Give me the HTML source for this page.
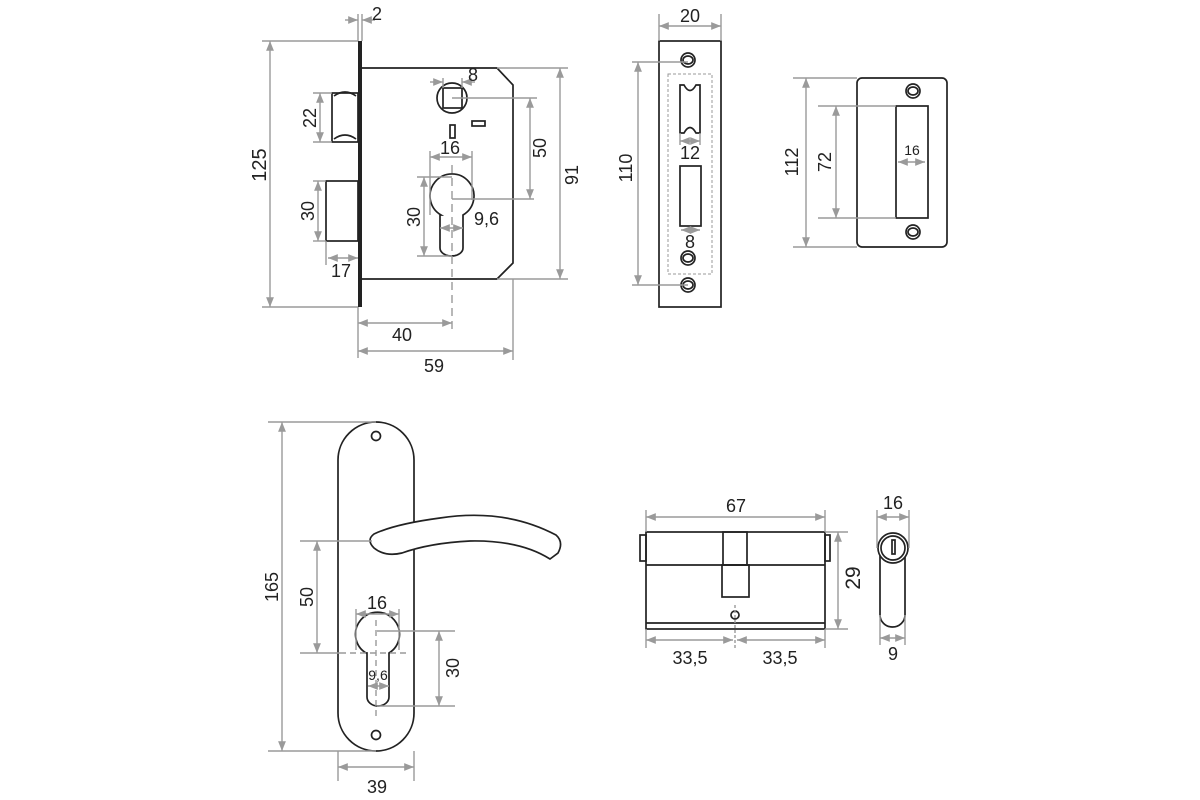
<!DOCTYPE html>
<html><head><meta charset="utf-8"><style>
html,body{margin:0;padding:0;background:#fff;}
svg{display:block;}
text{font-family:"Liberation Sans",sans-serif;font-size:18px;fill:#222;}
.d{stroke:#9a9a9a;stroke-width:1.4;fill:none;}
.o{stroke:#222;stroke-width:1.7;fill:none;}
.w{stroke:#222;stroke-width:1.7;fill:#fff;}
</style></head><body>
<svg width="1200" height="800" viewBox="0 0 1200 800" xmlns="http://www.w3.org/2000/svg">
<defs>
<marker id="a" viewBox="0 0 10 10" refX="10" refY="5" markerWidth="7" markerHeight="7" orient="auto-start-reverse"><path d="M0,1 L10,5 L0,9 z" fill="#9a9a9a"/></marker>
</defs>

<!-- ===== Mortise lock ===== -->
<rect x="358" y="41" width="4" height="266" fill="#222"/>
<path class="o" d="M362,68 H497 L513,85 V263 L497,279 H362"/>
<rect class="o" x="332" y="93" width="26" height="49"/>
<path class="o" d="M334,96 Q345,88 356,96 M334,139 Q345,131 356,139"/>
<rect class="o" x="326" y="181" width="32" height="60"/>
<circle class="o" cx="452" cy="98" r="15"/>
<rect class="o" x="443" y="88" width="19" height="20"/>
<rect class="o" x="450" y="125" width="5" height="13"/>
<rect class="o" x="472" y="121" width="13" height="5"/>
<path class="o" d="M441,215 A22,22 0 1 1 463,215 V248 A11.5,8 0 0 1 440,248 V215 Z"/>
<line class="d" x1="452" y1="165" x2="452" y2="330" stroke-dasharray="8,5"/>
<!-- dims -->
<line class="d" x1="358" y1="14" x2="358" y2="41"/><line class="d" x1="362" y1="14" x2="362" y2="41"/>
<line class="d" x1="345" y1="20" x2="358" y2="20" marker-end="url(#a)"/><line class="d" x1="375" y1="20" x2="362" y2="20" marker-end="url(#a)"/>
<text x="372" y="20">2</text>
<line class="d" x1="262" y1="41" x2="358" y2="41"/><line class="d" x1="262" y1="307" x2="358" y2="307"/>
<line class="d" x1="270" y1="41" x2="270" y2="307" marker-start="url(#a)" marker-end="url(#a)"/>
<text transform="translate(266,165) rotate(-90)" text-anchor="middle" style="font-size:20px">125</text>
<line class="d" x1="313" y1="93" x2="332" y2="93"/><line class="d" x1="313" y1="142" x2="332" y2="142"/>
<line class="d" x1="320" y1="93" x2="320" y2="142" marker-start="url(#a)" marker-end="url(#a)"/>
<text transform="translate(316,118) rotate(-90)" text-anchor="middle">22</text>
<line class="d" x1="313" y1="181" x2="326" y2="181"/><line class="d" x1="313" y1="241" x2="326" y2="241"/>
<line class="d" x1="318" y1="181" x2="318" y2="241" marker-start="url(#a)" marker-end="url(#a)"/>
<text transform="translate(314,211) rotate(-90)" text-anchor="middle">30</text>
<line class="d" x1="326" y1="241" x2="326" y2="265"/>
<line class="d" x1="328" y1="258" x2="358" y2="258" marker-start="url(#a)" marker-end="url(#a)"/>
<text x="341" y="277" text-anchor="middle">17</text>
<line class="d" x1="430" y1="82" x2="443" y2="82" marker-end="url(#a)"/><line class="d" x1="475" y1="82" x2="462" y2="82" marker-end="url(#a)"/>
<line class="d" x1="443" y1="78" x2="443" y2="88"/><line class="d" x1="462" y1="78" x2="462" y2="88"/>
<text x="468" y="81">8</text>
<line class="d" x1="452" y1="98" x2="537" y2="98"/><line class="d" x1="452" y1="199" x2="534" y2="199"/>
<line class="d" x1="530" y1="98" x2="530" y2="199" marker-start="url(#a)" marker-end="url(#a)"/>
<text transform="translate(546,148) rotate(-90)" text-anchor="middle">50</text>
<line class="d" x1="497" y1="68" x2="568" y2="68"/><line class="d" x1="497" y1="279" x2="568" y2="279"/>
<line class="d" x1="560" y1="68" x2="560" y2="279" marker-start="url(#a)" marker-end="url(#a)"/>
<text transform="translate(578,175) rotate(-90)" text-anchor="middle">91</text>
<line class="d" x1="430" y1="151" x2="430" y2="215"/><line class="d" x1="472" y1="151" x2="472" y2="200"/>
<line class="d" x1="430" y1="157" x2="472" y2="157" marker-start="url(#a)" marker-end="url(#a)"/>
<text x="450" y="154" text-anchor="middle">16</text>
<line class="d" x1="417" y1="177" x2="452" y2="177"/><line class="d" x1="417" y1="256" x2="452" y2="256"/>
<line class="d" x1="424" y1="177" x2="424" y2="256" marker-start="url(#a)" marker-end="url(#a)"/>
<text transform="translate(420,217) rotate(-90)" text-anchor="middle">30</text>
<line class="d" x1="440" y1="228" x2="463" y2="228" marker-start="url(#a)" marker-end="url(#a)"/>
<text x="474" y="225">9,6</text>
<line class="d" x1="358" y1="307" x2="358" y2="358"/><line class="d" x1="513" y1="279" x2="513" y2="360"/>
<line class="d" x1="358" y1="323" x2="452" y2="323" marker-start="url(#a)" marker-end="url(#a)"/>
<text x="402" y="341" text-anchor="middle">40</text>
<line class="d" x1="358" y1="351" x2="513" y2="351" marker-start="url(#a)" marker-end="url(#a)"/>
<text x="434" y="372" text-anchor="middle">59</text>

<!-- ===== Strike plate 1 ===== -->
<rect class="o" x="659" y="41" width="62" height="266"/>
<rect x="668" y="74" width="44" height="200" fill="none" stroke="#999" stroke-width="1" stroke-dasharray="3,2"/>
<g class="o"><circle cx="688" cy="60" r="7"/><ellipse cx="688" cy="60" rx="5" ry="4"/>
<circle cx="688" cy="258" r="7"/><ellipse cx="688" cy="258" rx="5" ry="4"/>
<circle cx="688" cy="285" r="7"/><ellipse cx="688" cy="285" rx="5" ry="4"/></g>
<path class="o" d="M680,85 H684 Q690,96 696,85 H700 V133 H696 Q690,122 684,133 H680 Z"/>
<rect class="o" x="680" y="166" width="21" height="60"/>
<line class="d" x1="659" y1="14" x2="659" y2="41"/><line class="d" x1="721" y1="14" x2="721" y2="41"/>
<line class="d" x1="659" y1="26" x2="721" y2="26" marker-start="url(#a)" marker-end="url(#a)"/>
<text x="690" y="22" text-anchor="middle">20</text>
<line class="d" x1="632" y1="62" x2="688" y2="62"/><line class="d" x1="632" y1="285" x2="688" y2="285"/>
<line class="d" x1="638" y1="62" x2="638" y2="285" marker-start="url(#a)" marker-end="url(#a)"/>
<text transform="translate(632,168) rotate(-90)" text-anchor="middle">110</text>
<line class="d" x1="680" y1="133" x2="680" y2="145"/><line class="d" x1="700" y1="133" x2="700" y2="145"/>
<line class="d" x1="680" y1="141" x2="700" y2="141" marker-start="url(#a)" marker-end="url(#a)"/>
<text x="690" y="159" text-anchor="middle">12</text>
<line class="d" x1="681" y1="230" x2="700" y2="230" marker-start="url(#a)" marker-end="url(#a)"/>
<text x="690" y="248" text-anchor="middle">8</text>

<!-- ===== Strike plate 2 ===== -->
<rect class="o" x="857" y="78" width="90" height="169" rx="5"/>
<g class="o"><circle cx="913" cy="91" r="7"/><ellipse cx="913" cy="91" rx="5" ry="4"/>
<circle cx="913" cy="232" r="7"/><ellipse cx="913" cy="232" rx="5" ry="4"/></g>
<rect class="o" x="896" y="106" width="32" height="112"/>
<line class="d" x1="793" y1="78" x2="857" y2="78"/><line class="d" x1="793" y1="247" x2="857" y2="247"/>
<line class="d" x1="806" y1="78" x2="806" y2="247" marker-start="url(#a)" marker-end="url(#a)"/>
<text transform="translate(798,162) rotate(-90)" text-anchor="middle">112</text>
<line class="d" x1="818" y1="106" x2="896" y2="106"/><line class="d" x1="818" y1="218" x2="896" y2="218"/>
<line class="d" x1="836" y1="106" x2="836" y2="218" marker-start="url(#a)" marker-end="url(#a)"/>
<text transform="translate(831,162) rotate(-90)" text-anchor="middle">72</text>
<line class="d" x1="898" y1="162" x2="925" y2="162" marker-start="url(#a)" marker-end="url(#a)"/>
<text x="912" y="155" text-anchor="middle" style="font-size:14px">16</text>

<!-- ===== Handle ===== -->
<rect class="o" x="338" y="422" width="76" height="329" rx="38"/>
<circle class="o" cx="376" cy="436" r="4.5"/><circle class="o" cx="376" cy="735" r="4.5"/>
<path class="w" d="M374,534 Q395,524 440,518 Q505,508 556,535 Q564,542 558,553 L550,559 Q520,540 470,541 Q430,543 402,553 Q385,557 374,548 Q366,540 374,534 Z"/>
<path class="o" d="M366,653 A22,22 0 1 1 389,653 V697 A11,9 0 0 1 367,697 V653 Z"/>
<line class="d" x1="376" y1="620" x2="376" y2="720" stroke-dasharray="6,4"/>
<line class="d" x1="340" y1="653" x2="407" y2="653" stroke-dasharray="6,4"/>
<line class="d" x1="268" y1="422" x2="376" y2="422"/><line class="d" x1="268" y1="751" x2="376" y2="751"/>
<line class="d" x1="282" y1="422" x2="282" y2="751" marker-start="url(#a)" marker-end="url(#a)"/>
<text transform="translate(278,587) rotate(-90)" text-anchor="middle">165</text>
<line class="d" x1="300" y1="541" x2="372" y2="541"/><line class="d" x1="300" y1="653" x2="340" y2="653"/>
<line class="d" x1="317" y1="541" x2="317" y2="653" marker-start="url(#a)" marker-end="url(#a)"/>
<text transform="translate(313,597) rotate(-90)" text-anchor="middle">50</text>
<line class="d" x1="356" y1="609" x2="356" y2="650"/><line class="d" x1="399" y1="609" x2="399" y2="650"/>
<line class="d" x1="356" y1="614" x2="399" y2="614" marker-start="url(#a)" marker-end="url(#a)"/>
<text x="377" y="609" text-anchor="middle">16</text>
<line class="d" x1="377" y1="631" x2="455" y2="631"/><line class="d" x1="377" y1="706" x2="455" y2="706"/>
<line class="d" x1="439" y1="631" x2="439" y2="706" marker-start="url(#a)" marker-end="url(#a)"/>
<text transform="translate(459,668) rotate(-90)" text-anchor="middle">30</text>
<line class="d" x1="368" y1="686" x2="389" y2="686" marker-start="url(#a)" marker-end="url(#a)"/>
<text x="378" y="680" text-anchor="middle" style="font-size:14px">9,6</text>
<line class="d" x1="338" y1="751" x2="338" y2="781"/><line class="d" x1="414" y1="751" x2="414" y2="781"/>
<line class="d" x1="338" y1="767" x2="414" y2="767" marker-start="url(#a)" marker-end="url(#a)"/>
<text x="377" y="793" text-anchor="middle">39</text>

<!-- ===== Cylinder ===== -->
<rect class="o" x="640" y="535" width="6" height="26"/>
<rect class="o" x="825" y="535" width="5" height="26"/>
<rect class="o" x="646" y="532" width="179" height="97"/>
<line class="o" x1="646" y1="565" x2="825" y2="565"/>
<line class="o" x1="646" y1="623" x2="825" y2="623"/>
<rect class="o" x="723" y="532" width="24" height="33"/>
<rect class="o" x="722" y="565" width="27" height="32"/>
<circle class="o" cx="735" cy="615" r="4"/>
<line class="d" x1="735" y1="605" x2="735" y2="648" stroke-dasharray="3,2"/>
<line class="d" x1="646" y1="510" x2="646" y2="532"/><line class="d" x1="825" y1="510" x2="825" y2="532"/>
<line class="d" x1="646" y1="517" x2="825" y2="517" marker-start="url(#a)" marker-end="url(#a)"/>
<text x="736" y="512" text-anchor="middle">67</text>
<line class="d" x1="825" y1="532" x2="848" y2="532"/><line class="d" x1="825" y1="629" x2="848" y2="629"/>
<line class="d" x1="838" y1="532" x2="838" y2="629" marker-start="url(#a)" marker-end="url(#a)"/>
<text transform="translate(860,578) rotate(-90)" text-anchor="middle" style="font-size:21px">29</text>
<line class="d" x1="646" y1="629" x2="646" y2="648"/><line class="d" x1="825" y1="629" x2="825" y2="648"/>
<line class="d" x1="646" y1="640" x2="733" y2="640" marker-start="url(#a)" marker-end="url(#a)"/>
<line class="d" x1="737" y1="640" x2="825" y2="640" marker-start="url(#a)" marker-end="url(#a)"/>
<text x="690" y="664" text-anchor="middle">33,5</text>
<text x="780" y="664" text-anchor="middle">33,5</text>
<!-- side -->
<path class="o" d="M880,555 V615 A12.5,12 0 0 0 905,615 V555"/>
<circle class="w" cx="893" cy="548" r="15"/>
<circle class="o" cx="893" cy="548" r="12"/>
<rect class="o" x="892" y="540" width="3" height="14"/>
<line class="d" x1="877" y1="510" x2="877" y2="548"/><line class="d" x1="909" y1="510" x2="909" y2="548"/>
<line class="d" x1="877" y1="517" x2="909" y2="517" marker-start="url(#a)" marker-end="url(#a)"/>
<text x="893" y="509" text-anchor="middle">16</text>
<line class="d" x1="880" y1="615" x2="880" y2="645"/><line class="d" x1="905" y1="615" x2="905" y2="645"/>
<line class="d" x1="880" y1="638" x2="905" y2="638" marker-start="url(#a)" marker-end="url(#a)"/>
<text x="893" y="660" text-anchor="middle">9</text>
</svg>
</body></html>
